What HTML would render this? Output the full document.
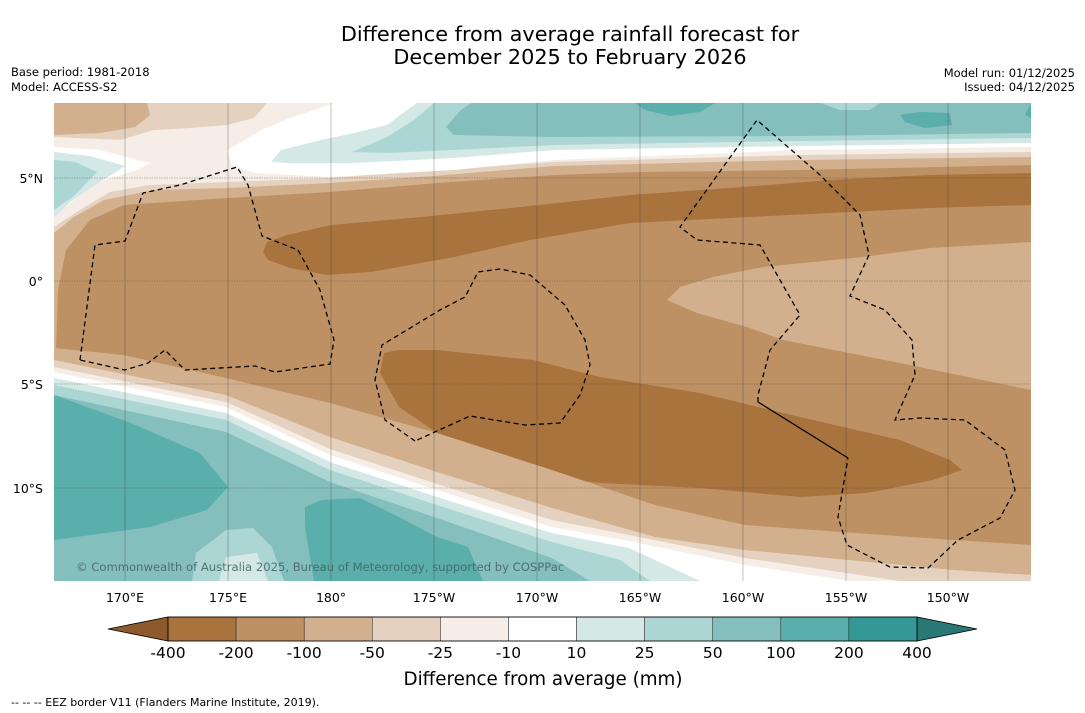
<!DOCTYPE html>
<html><head><meta charset="utf-8">
<style>
body{margin:0;background:#fff;width:1085px;height:713px;overflow:hidden;font-family:"DejaVu Sans","Liberation Sans",sans-serif;}
svg{position:absolute;left:0;top:0;font-family:"DejaVu Sans","Liberation Sans",sans-serif;}
</style></head>
<body>
<svg width="1085" height="713" viewBox="0 0 1085 713">
<defs><clipPath id="mc"><rect x="54" y="103" width="977" height="478"/></clipPath></defs>
<text x="570" y="41" text-anchor="middle" font-size="20.8" fill="#000">Difference from average rainfall forecast for</text>
<text x="570" y="64" text-anchor="middle" font-size="20.8" fill="#000">December 2025 to February 2026</text>
<text x="11" y="76" font-size="11.5">Base period: 1981-2018</text>
<text x="11" y="91" font-size="11.5">Model: ACCESS-S2</text>
<text x="1075" y="77" font-size="11.5" text-anchor="end">Model run: 01/12/2025</text>
<text x="1075" y="91" font-size="11.5" text-anchor="end">Issued: 04/12/2025</text>

<g clip-path="url(#mc)">
<rect x="54" y="103" width="977" height="478" fill="#be9165"/>
<polygon fill="#d2b08e" points="54,103 1031,103 1031,165 800,170 640,172 554,175 450,182 330,192 227,198 124,205 90,220 66,250 58,290 56,350 54,350"/>
<polygon fill="#e5d1bf" points="54,103 1031,103 1031,157 800,160 554,166 434,176 330,183 227,188 154,190 104,200 74,217 54,233"/>
<polygon fill="#f5ede6" points="54,137 120,140 154,130 190,128 227,125 254,118 267,103 1031,103 1031,152 800,155 554,162 434,170 330,178 227,182 150,185 110,192 80,210 54,227"/>
<polygon fill="#d2b08e" points="54,103 147,103 150,115 135,127 100,133 54,135"/>
<polygon fill="#ffffff" points="54,147 100,150 137,160 151,163 137,170 97,183 54,215"/>
<polygon fill="#ffffff" points="227,150 245,140 261,130 290,118 314,110 334,103 1031,103 1031,147 800,150 554,160 454,170 330,177 254,173 232,165"/>
<polygon fill="#d4e8e6" points="271,162 281,150 321,140 354,133 387,125 407,110 417,103 1031,103 1031,143 800,146 554,150 454,158 354,163 287,163"/>
<polygon fill="#d4e8e6" points="54,152 90,156 125,166 100,182 70,202 54,218"/>
<polygon fill="#acd6d4" points="54,160 75,162 97,172 75,195 54,210"/>
<polygon fill="#acd6d4" points="352,152 387,137 414,120 434,103 1031,103 1031,138 800,141 554,145 454,150 387,153"/>
<polygon fill="#84bfbe" points="446,127 461,110 471,103 1031,103 1031,133 800,136 554,137 454,135"/>
<polygon fill="#acd6d4" points="820,103 880,103 870,110 840,110"/>
<polygon fill="#5aaeac" points="635,103 715,103 700,112 670,116 645,110"/>
<polygon fill="#5aaeac" points="900,115 920,112 950,113 952,125 925,128 905,122"/>
<polygon fill="#5aaeac" points="1025,115 1031,103 1031,118"/>
<polygon fill="#a9733d" points="263,252 267,242 287,235 331,225 421,217 530,206 630,195 730,188 830,180 930,175 1031,173 1031,205 930,208 830,213 730,218 630,223 530,240 454,257 371,272 327,275 290,268 268,260"/>
<polygon fill="#d2b08e" points="667,300 680,287 713,277 763,267 863,257 930,248 1031,242 1031,390 900,363 783,340 747,327 697,313"/>
<polygon fill="#a9733d" points="384,353 399,350 437,350 533,360 600,377 700,393 800,417 900,440 950,460 962,470 933,480 867,493 800,497 700,488 600,483 514,473 437,433 399,407 380,373"/>
<polygon fill="#d2b08e" points="54,348 123,355 226,378 330,403 437,433 552,470 655,505 745,525 953,540 1031,545 1031,581 54,581"/>
<polygon fill="#e5d1bf" points="54,360 226,395 330,437 437,472 552,508 655,537 745,550 953,570 1031,575 1031,581 54,581"/>
<polygon fill="#f5ede6" points="54,367 226,402 330,449 437,484 552,520 629,535 745,558 900,581 54,581"/>
<polygon fill="#ffffff" points="54,372 226,407 330,455 437,490 552,527 629,541 745,565 850,581 54,581"/>
<polygon fill="#d4e8e6" points="54,378 226,413 330,462 437,497 552,533 629,548 700,581 54,581"/>
<polygon fill="#acd6d4" points="54,385 226,420 330,470 437,505 552,542 620,560 650,581 54,581"/>
<polygon fill="#84bfbe" points="54,395 226,432 330,482 437,518 552,558 590,581 54,581"/>
<polygon fill="#5aaeac" points="54,395 131,423 200,453 228,487 207,510 150,527 54,540"/>
<polygon fill="#acd6d4" points="192,581 196,553 226,530 253,528 272,547 284,581"/>
<polygon fill="#d4e8e6" points="219,581 226,557 257,553 268,581"/>
<polygon fill="#5aaeac" points="305,507 322,500 360,498 399,517 437,537 468,547 483,581 314,581 305,527"/>
<g stroke="#333" stroke-width="0.5" opacity="0.6">
<line x1="125" y1="103" x2="125" y2="581"/><line x1="228" y1="103" x2="228" y2="581"/><line x1="331" y1="103" x2="331" y2="581"/><line x1="434" y1="103" x2="434" y2="581"/><line x1="537" y1="103" x2="537" y2="581"/><line x1="640" y1="103" x2="640" y2="581"/><line x1="743" y1="103" x2="743" y2="581"/><line x1="846" y1="103" x2="846" y2="581"/><line x1="948" y1="103" x2="948" y2="581"/>
<line x1="54" y1="178" x2="1031" y2="178" stroke-dasharray="1.5,1"/><line x1="54" y1="281" x2="1031" y2="281" stroke-dasharray="1.5,1"/><line x1="54" y1="384" x2="1031" y2="384" stroke-dasharray="1.5,1"/><line x1="54" y1="488" x2="1031" y2="488" stroke-dasharray="1.5,1"/>
</g>
<g fill="none" stroke="#000" stroke-width="1.3" stroke-dasharray="5,3.5">
<polyline points="80,360 95,245 125,241 143,193 180,185 237,167 248,185 262,236 298,250 320,290 334,340 330,364 275,372 255,366 185,370 165,350 148,363 125,370 80,360"/>
<polyline points="415,441 385,420 375,380 382,345 440,310 465,297 478,272 500,269 530,275 565,305 585,340 590,365 580,395 560,423 525,425 470,416 415,441"/>
<polyline points="758,402 758,395 770,350 800,315 760,245 697,240 680,227 757,120 820,175 860,215 869,255 850,296 885,310 912,340 915,375 895,420 920,418 965,420 1005,450 1015,490 1000,518 958,540 928,568 890,567 847,545 838,517 848,458"/>
</g>
<polyline fill="none" stroke="#000" stroke-width="1.3" points="848,458 758,402"/>
<text x="76" y="571" font-size="11.6" fill="#3f6363" fill-opacity="0.85">© Commonwealth of Australia 2025, Bureau of Meteorology, supported by COSPPac</text>
</g>

<g font-size="12.5" fill="#000">
<text x="43" y="183" text-anchor="end">5°N</text><text x="43" y="286" text-anchor="end">0°</text><text x="43" y="389" text-anchor="end">5°S</text><text x="43" y="493" text-anchor="end">10°S</text>
</g>
<g font-size="12.5" fill="#000" text-anchor="middle">
<text x="125" y="602">170°E</text><text x="228" y="602">175°E</text><text x="331" y="602">180°</text><text x="434" y="602">175°W</text><text x="537" y="602">170°W</text><text x="640" y="602">165°W</text><text x="743" y="602">160°W</text><text x="846" y="602">155°W</text><text x="948" y="602">150°W</text>
</g>
<g id="cbar"></g>
<text x="543" y="685" font-size="18.3" text-anchor="middle">Difference from average (mm)</text>
<text x="11" y="706" font-size="11">--  --  -- EEZ border V11 (Flanders Marine Institute, 2019).</text>
</svg>
<script>
const levels=[-400,-200,-100,-50,-25,-10,10,25,50,100,200,400];
const binColors=["#a9733d","#be9165","#d2b08e","#e5d1bf","#f5ede6","#ffffff","#d4e8e6","#acd6d4","#84bfbe","#5aaeac","#349996"];
const extendColors=["#8c5a2c","#2a7876"];
const NS="http://www.w3.org/2000/svg";
const cb=document.getElementById('cbar');
const x0=168,x1=917,y0=617,h=24;
const xOf=i=>x0+i*(x1-x0)/(levels.length-1);
function mk(t,a){const e=document.createElementNS(NS,t);for(const k in a)e.setAttribute(k,a[k]);cb.appendChild(e);return e;}
const la=mk('polygon',{points:`108,${y0+h/2} ${x0},${y0} ${x0},${y0+h}`,fill:extendColors[0],stroke:'#000','stroke-width':0.8});


const ra=mk('polygon',{points:`977,${y0+h/2} ${x1},${y0} ${x1},${y0+h}`,fill:extendColors[1],stroke:'#000','stroke-width':0.8});


binColors.forEach((c,i)=>{
  const r=mk('rect',{x:xOf(i),y:y0,width:xOf(i+1)-xOf(i),height:h,fill:c,stroke:'#222','stroke-width':0.5});
  
  
});
const fr=mk('rect',{x:x0,y:y0,width:x1-x0,height:h,fill:'none',stroke:'#000','stroke-width':0.8});


levels.forEach((v,i)=>{
  const t=mk('text',{x:xOf(i),y:658,'font-size':15.5,'text-anchor':'middle'});
  t.textContent=v;
  
  
});
</script>
</body></html>
